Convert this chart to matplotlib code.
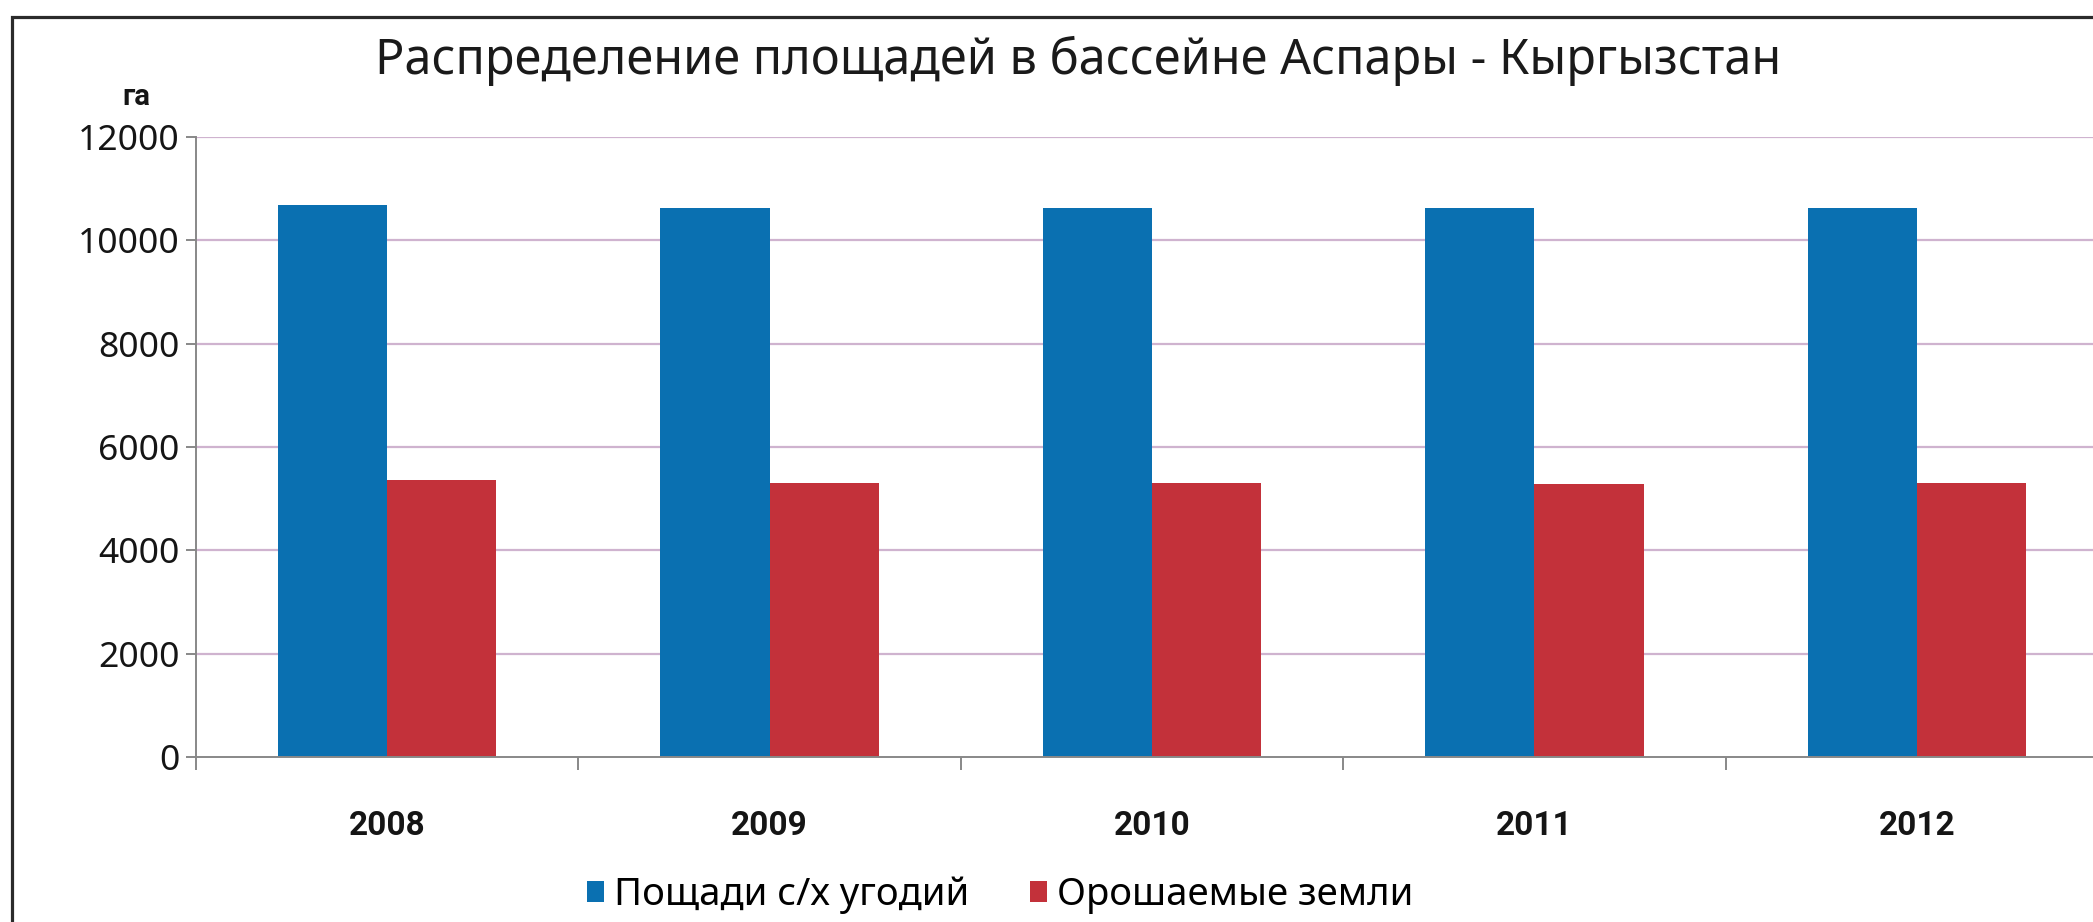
import matplotlib
matplotlib.use("Agg")
import matplotlib.pyplot as plt
from matplotlib.patches import Rectangle
import numpy as np

# Data
years = ["2008", "2009", "2010", "2011", "2012"]
farmland = [10680, 10630, 10630, 10630, 10630]
irrigated = [5360, 5310, 5310, 5280, 5310]
series_names = ["Пощади с/х угодий", "Орошаемые земли"]
yticks = [0, 2000, 4000, 6000, 8000, 10000, 12000]
title = "Распределение площадей в бассейне Аспары - Кыргызстан"
unit = "га"

plt.rcParams['font.family'] = ['Noto Sans', 'DejaVu Sans']
bold_family = ['Roboto', 'DejaVu Sans']

W, H = 2093, 922
fig = plt.figure(figsize=(W / 100, H / 100), dpi=100, facecolor='white')

# plot area runs past the right edge of the picture, like the cropped original
ax_left, ax_right, ax_bottom, ax_top = 196, 2108, 757, 137
ax = fig.add_axes([ax_left / W, 1 - ax_bottom / H,
                   (ax_right - ax_left) / W, (ax_bottom - ax_top) / H])

x = np.arange(len(years))
bw = 1 / 3.5
blue = '#0A70B1'
red = '#C3313A'
b1 = ax.bar(x - bw / 2, farmland, bw, color=blue, label=series_names[0], zorder=3)
b2 = ax.bar(x + bw / 2, irrigated, bw, color=red, label=series_names[1], zorder=3)

ax.set_xlim(-0.5, len(years) - 0.5)
ax.set_ylim(0, 12000)
ax.set_yticks(yticks)
ax.set_yticklabels([str(v) for v in yticks], fontsize=25.5, color='#151515',
                   fontweight='medium')
ax.set_xticks(x)
ax.set_xticklabels(years, fontsize=24, fontweight='bold', color='#151515',
                   family=bold_family)
ax.set_xticks(np.arange(-0.5, len(years)), minor=True)

ax.tick_params(axis='y', length=7, width=1.4, color='#888888', pad=5)
ax.tick_params(axis='x', which='major', length=0, pad=38)
ax.tick_params(axis='x', which='minor', length=9.5, width=1.4, color='#888888')

# horizontal grid lines (skip zero, that is the axis)
for v in yticks[1:]:
    ax.axhline(v, color='#CFB3CF', lw=1.6, zorder=1)

for s in ['top', 'right']:
    ax.spines[s].set_visible(False)
for s in ['left', 'bottom']:
    ax.spines[s].set_color('#888888')
    ax.spines[s].set_linewidth(1.4)
    ax.spines[s].set_zorder(4)

# title and unit label
fig.text(1078 / W, 1 - 61 / H, title, fontsize=35, ha='center', va='center',
         color='#1a1a1a')
fig.text(136 / W, 1 - 97 / H, unit, fontsize=21, fontweight='bold',
         family=bold_family, ha='center', va='center', color='#151515')

# legend under the chart
fig.legend(handles=[b1, b2], labels=series_names, loc='center',
           bbox_to_anchor=(1000 / W, 1 - 895 / H), ncol=2, frameon=False,
           fontsize=27.5, handlelength=0.45, handleheight=0.45,
           handletextpad=0.25, columnspacing=1.6, borderpad=0)

# dark frame round the chart, cut off at right and bottom
fig.add_artist(Rectangle((12 / W, -0.1), 1.2, 1.1 - 17 / H,
                         transform=fig.transFigure, fill=False,
                         lw=2.3, ec='#2b2b2b'))

fig.savefig('out.png', dpi=100, facecolor='white')
